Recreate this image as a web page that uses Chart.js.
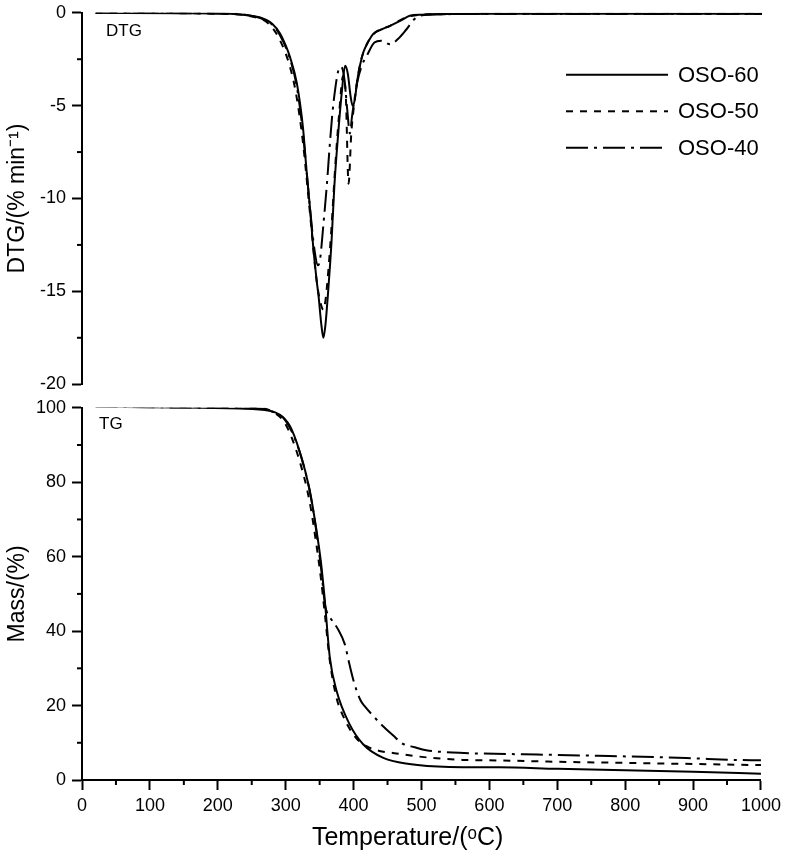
<!DOCTYPE html>
<html>
<head>
<meta charset="utf-8">
<script src="https://cdn.jsdelivr.net/npm/chart.js@4.4.1/dist/chart.umd.min.js"></script>
<style>
  body { margin: 0; background: #fff; }
  #wrap { position: relative; width: 786px; height: 860px; overflow: hidden; }
  #dtg { position: absolute; left: 0; top: -4px; }
  #tg { position: absolute; left: 0; top: 391px; }
</style>
</head>
<body>
<div id="wrap">
  <canvas id="dtg" width="786" height="405"></canvas>
  <canvas id="tg" width="786" height="469"></canvas>
</div>
<script>
// series names and tick settings
const seriesNames = ["OSO-60", "OSO-50", "OSO-40"];
const xTicks = [0, 1000, 100];
const dtgTicks = [-20, 0, 5];
const tgTicks = [0, 100, 20];

// DTG curves, temperature (C) and rate (%/min)
const dtgT60 = [20, 150, 218, 240, 262, 280, 291, 300, 306, 316, 325, 330, 335, 340, 345, 348, 352, 355, 358, 362, 367, 371, 377, 382, 387, 391, 395, 398, 401, 405, 409, 414, 419, 428, 440, 453, 470, 482, 500, 526, 600, 800, 1000];
const dtg60 = [0, -0.02, -0.05, -0.12, -0.25, -0.6, -1.1, -1.8, -2.4, -3.8, -6.2, -8.4, -10.4, -12.6, -14.4, -15.3, -16.8, -17.5, -16.8, -15.0, -12.3, -9.4, -6.4, -4.3, -2.85, -3.3, -4.5, -5.0, -4.7, -3.6, -2.8, -2.1, -1.7, -1.15, -0.9, -0.7, -0.4, -0.16, -0.1, -0.07, -0.05, -0.05, -0.05];

const dtgT50 = [20, 200, 250, 275, 290, 305, 315, 325, 335, 345, 350, 355, 358, 362, 367, 372, 378, 384, 388, 392, 396, 400, 405, 410, 420, 430, 453, 480, 520, 700, 1000];
const dtg50 = [0, -0.05, -0.2, -0.6, -1.4, -2.8, -4.4, -7.0, -10.7, -14.4, -15.5, -16.0, -15.5, -14.0, -11.5, -8.5, -5.5, -3.4, -4.5, -9.2, -6.5, -5.0, -3.6, -2.6, -1.6, -1.1, -0.7, -0.2, -0.08, -0.05, -0.05];

const dtgT40 = [20, 218, 262, 280, 291, 306, 316, 325, 335, 342, 347, 350, 355, 360, 364, 368, 372, 377, 381, 386, 390, 394, 397, 401, 405, 412, 419, 430, 440, 453, 465, 477, 490, 510, 600, 1000];
const dtg40 = [0, -0.05, -0.28, -0.65, -1.2, -2.5, -4.0, -6.5, -10.4, -12.8, -13.6, -13.3, -11.4, -9.3, -7.3, -5.5, -4.2, -3.1, -2.9, -3.6, -5.2, -6.5, -5.6, -4.6, -3.7, -2.8, -2.3, -1.6, -1.5, -1.7, -1.4, -0.9, -0.3, -0.1, -0.06, -0.06];

// TG curves, temperature (C) and mass (%)
const tgT60 = [20, 150, 232, 276, 306, 321, 335, 345, 352, 357, 365, 375, 394, 414, 443, 482, 541, 615, 700, 800, 900, 1000];
const tg60 = [100.3, 100.1, 99.8, 99.2, 95.2, 88, 78.2, 67.5, 58.4, 49.5, 32.9, 23.9, 15, 9.6, 6.0, 4.3, 3.5, 3.4, 3.0, 2.6, 2.2, 1.7];

const tgT50 = [20, 150, 250, 280, 300, 320, 335, 345, 352, 358, 365, 375, 385, 395, 405, 419, 438, 460, 487, 512, 560, 600, 700, 800, 900, 1000];
const tg50 = [100.5, 100.3, 100.2, 99, 95.5, 86, 75, 63.5, 54, 44, 32, 22, 17, 13.5, 11, 9.1, 7.8, 7.2, 6.5, 6.0, 5.4, 5.3, 4.9, 4.6, 4.3, 4.0];

const tgT40 = [20, 150, 250, 280, 300, 320, 335, 345, 352, 358, 362, 367, 377, 387, 394, 401, 410, 416, 430, 443, 458, 472, 490, 507, 556, 590, 650, 760, 890, 960, 1000];
const tg40 = [100.3, 100.1, 100, 99, 96.5, 88.5, 78, 67, 57, 47, 44.5, 43.2, 40.5, 36.5, 31, 26, 21.5, 19.9, 17, 14.5, 12, 9.8, 8.8, 8.0, 7.3, 7.1, 6.9, 6.5, 5.9, 5.4, 5.3];

const FONT = "'Liberation Sans', Arial, sans-serif";
const dashes = [[], [7, 7], [22, 6, 3, 6]];

function pts(xs, ys) {
  return xs.map((x, i) => ({ x, y: ys[i] }));
}

function makeSets(list) {
  return list.map((d, i) => ({
    label: seriesNames[i],
    data: pts(d[0], d[1]),
    borderColor: "#000",
    borderWidth: 2,
    borderDash: dashes[i],
    pointRadius: 0,
    fill: false,
    cubicInterpolationMode: "monotone",
  }));
}

// short ticks between the labelled ones
const minorTicks = {
  id: "minorTicks",
  afterDraw(chart) {
    const ctx = chart.ctx;
    ctx.save();
    ctx.strokeStyle = "#000";
    ctx.lineWidth = 2;
    Object.values(chart.scales).forEach((s) => {
      const step = s.options.minorStep;
      if (!step || !s.options.display) return;
      for (let v = s.min + step; v < s.max; v += 2 * step) {
        const p = s.getPixelForValue(v);
        ctx.beginPath();
        if (s.axis === "x") {
          ctx.moveTo(p, s.top);
          ctx.lineTo(p, s.top + 5);
        } else {
          ctx.moveTo(s.right - 5, p);
          ctx.lineTo(s.right, p);
        }
        ctx.stroke();
      }
    });
    ctx.restore();
  },
};

const panelLabel = {
  id: "panelLabel",
  afterDraw(chart, args, opts) {
    const ctx = chart.ctx;
    ctx.save();
    ctx.fillStyle = "#000";
    ctx.font = "17px " + FONT;
    ctx.textBaseline = "middle";
    ctx.fillText(opts.text, chart.chartArea.left + opts.dx, chart.chartArea.top + opts.dy);
    ctx.restore();
  },
};

const lineLegend = {
  id: "lineLegend",
  afterDraw(chart, args, opts) {
    if (!opts.show) return;
    const ctx = chart.ctx;
    const top = chart.chartArea.top;
    ctx.save();
    ctx.strokeStyle = "#000";
    ctx.fillStyle = "#000";
    ctx.lineWidth = 2;
    ctx.font = "22px " + FONT;
    ctx.textBaseline = "middle";
    chart.data.datasets.forEach((ds, i) => {
      const y = top + 62 + i * 36.5;
      ctx.setLineDash(ds.borderDash);
      ctx.beginPath();
      ctx.moveTo(566, y);
      ctx.lineTo(668, y);
      ctx.stroke();
      ctx.setLineDash([]);
      ctx.fillText(ds.label, 678, y + 1);
    });
    ctx.restore();
  },
};

function yAxis(t, title) {
  return {
    min: t[0], max: t[1],
    minorStep: t[2] / 2,
    afterFit: (s) => { s.width = 82; },
    border: { display: true, color: "#000", width: 2 },
    grid: { drawOnChartArea: false, drawTicks: true, tickLength: 10, tickWidth: 2, tickColor: "#000" },
    ticks: { stepSize: t[2], color: "#000", padding: 6, font: { family: FONT, size: 18 }, callback: (v) => String(v) },
    title: { display: true, text: title, color: "#000", font: { family: FONT, size: 23 }, padding: { top: 4, bottom: 2 } },
  };
}

function xAxis(show) {
  return {
    type: "linear",
    display: show,
    min: xTicks[0], max: xTicks[1],
    minorStep: xTicks[2] / 2,
    afterFit: (s) => { if (show) s.height = 80; },
    border: { display: true, color: "#000", width: 2 },
    grid: { drawOnChartArea: false, drawTicks: true, tickLength: 10, tickWidth: 2, tickColor: "#000" },
    ticks: { stepSize: xTicks[2], color: "#000", padding: 5, maxRotation: 0, font: { family: FONT, size: 18 }, callback: (v) => String(v) },
    // trailing spaces pull the centred title a little left, as in the picture
    title: { display: true, text: "Temperature/(ᵒC)    ", color: "#000", font: { family: FONT, size: 25 }, padding: { top: 4, bottom: 7 } },
  };
}

Chart.defaults.animation = false;

new Chart(document.getElementById("dtg"), {
  type: "line",
  data: { datasets: makeSets([[dtgT60, dtg60], [dtgT50, dtg50], [dtgT40, dtg40]]) },
  options: {
    responsive: false,
    layout: { padding: { top: 9, right: 24, bottom: 6, left: 0 } },
    scales: { x: xAxis(false), y: yAxis(dtgTicks, "DTG/(% min⁻¹)") },
    plugins: {
      legend: { display: false },
      tooltip: { enabled: false },
      panelLabel: { text: "DTG", dx: 24, dy: 19 },
      lineLegend: { show: true },
    },
  },
  plugins: [minorTicks, panelLabel, lineLegend],
});

new Chart(document.getElementById("tg"), {
  type: "line",
  data: { datasets: makeSets([[tgT60, tg60], [tgT50, tg50], [tgT40, tg40]]) },
  options: {
    responsive: false,
    layout: { padding: { top: 9, right: 24, bottom: 0, left: 0 } },
    scales: { x: xAxis(true), y: yAxis(tgTicks, "Mass/(%)") },
    plugins: {
      legend: { display: false },
      tooltip: { enabled: false },
      panelLabel: { text: "TG", dx: 17, dy: 17 },
      lineLegend: { show: false },
    },
  },
  plugins: [minorTicks, panelLabel, lineLegend],
});
</script>
</body>
</html>
